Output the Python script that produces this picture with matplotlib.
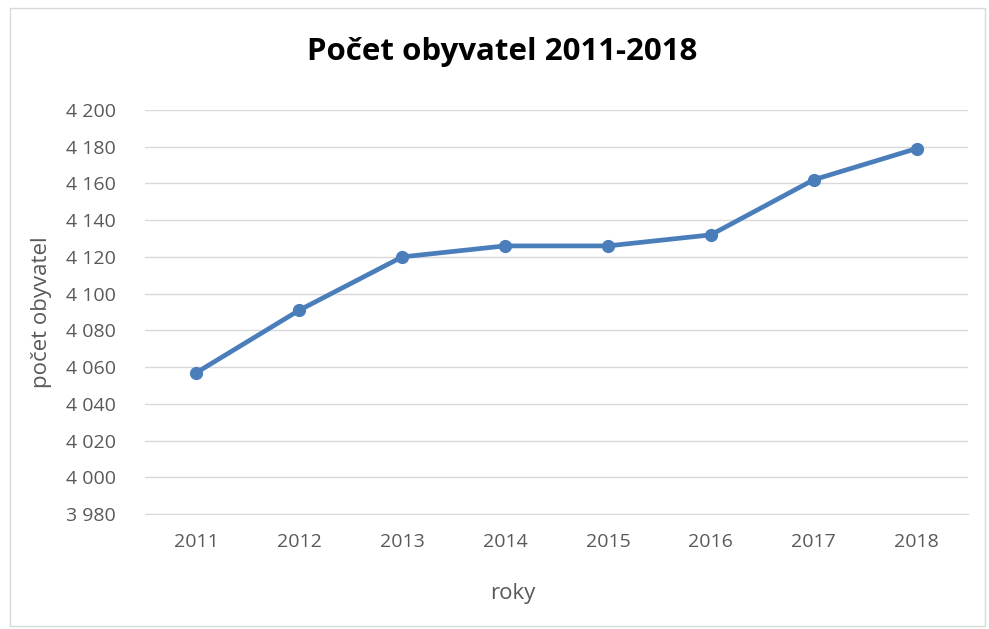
import matplotlib
matplotlib.use("Agg")
from matplotlib import pyplot as plt
from matplotlib.patches import Rectangle
from matplotlib.ticker import FuncFormatter

roky = ["2011", "2012", "2013", "2014", "2015", "2016", "2017", "2018"]
obyvatele = [4057, 4091, 4120, 4126, 4126, 4132, 4162, 4179]
y_ticks = list(range(3980, 4201, 20))

plt.rcParams['font.family'] = ['Open Sans', 'DejaVu Sans']

fig = plt.figure(figsize=(9.89, 6.29), dpi=100)
fig.patches.append(Rectangle((10 / 989, 3 / 629), 975 / 989, 618 / 629,
                             transform=fig.transFigure, fill=False,
                             edgecolor='#d9d9d9', linewidth=1))

ax = fig.add_axes([145 / 989, 1 - 514 / 629, 823 / 989, 404 / 629])
x = list(range(len(roky)))
ax.plot(x, obyvatele, color='#4a7ebb', linewidth=3.4, marker='o', markersize=8.5)

ax.set_xlim(-0.5, len(roky) - 0.5)
ax.set_ylim(3980, 4200)
ax.set_yticks(y_ticks)
ax.yaxis.set_major_formatter(FuncFormatter(lambda v, p: f"{int(v):,}".replace(",", " ")))
ax.set_xticks(x)
ax.set_xticklabels(roky)

ax.grid(axis='y', color='#d9d9d9', linewidth=1)
ax.set_axisbelow(True)
for s in ['top', 'right', 'left']:
    ax.spines[s].set_visible(False)
ax.spines['bottom'].set_color('#d9d9d9')
ax.tick_params(axis='both', length=0, colors='#595959', labelsize=14)
ax.tick_params(axis='y', pad=21)
ax.tick_params(axis='x', pad=14)

fig.text(502 / 989, 1 - 52 / 629, "Počet obyvatel 2011-2018", ha='center', va='center',
         fontsize=22.5, fontweight='bold', color='black')
fig.text(513 / 989, 1 - 594 / 629, "roky", ha='center', va='center',
         fontsize=16, color='#595959')
fig.text(42 / 989, 1 - 312 / 629, "počet obyvatel", ha='center', va='center',
         rotation=90, fontsize=16, color='#595959')

fig.savefig("out.png", dpi=100)
